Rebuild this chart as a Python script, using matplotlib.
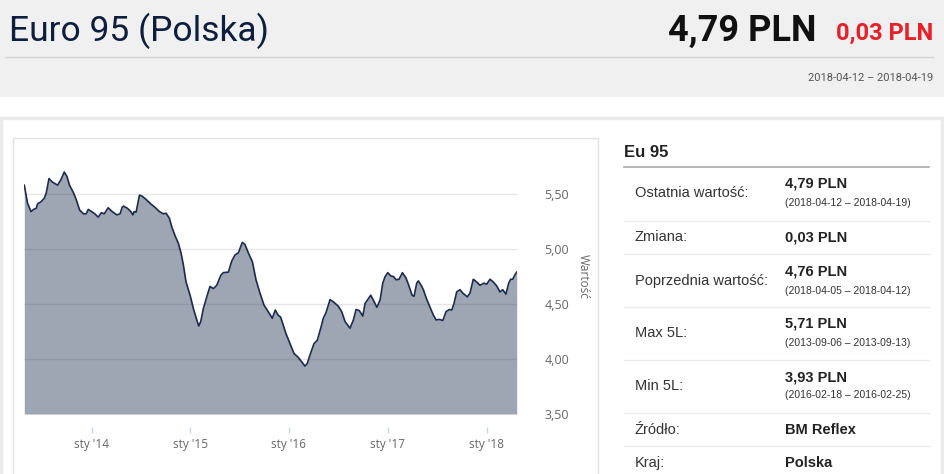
import datetime as dt
import matplotlib
matplotlib.use("Agg")
import matplotlib.pyplot as plt
from matplotlib.patches import Rectangle
from matplotlib.lines import Line2D

# weekly price readings, x as decimal year
years = [2013.319, 2013.352, 2013.387, 2013.413, 2013.440, 2013.453, 2013.488, 2013.521,
         2013.542, 2013.569, 2013.602, 2013.656, 2013.690, 2013.724, 2013.751, 2013.777,
         2013.818, 2013.845, 2013.879, 2013.919, 2013.946, 2013.967, 2014.000, 2014.034,
         2014.068, 2014.101, 2014.129, 2014.169, 2014.210, 2014.257, 2014.290, 2014.311,
         2014.324, 2014.364, 2014.399, 2014.419, 2014.432, 2014.452, 2014.486, 2014.513,
         2014.554, 2014.594, 2014.642, 2014.688, 2014.729, 2014.756, 2014.789, 2014.814,
         2014.847, 2014.881, 2014.908, 2014.931, 2014.958, 2014.999, 2015.032, 2015.067,
         2015.087, 2015.107, 2015.134, 2015.168, 2015.201, 2015.235, 2015.269, 2015.310,
         2015.336, 2015.387, 2015.421, 2015.454, 2015.488, 2015.528, 2015.556, 2015.589,
         2015.630, 2015.667, 2015.707, 2015.748, 2015.791, 2015.832, 2015.862, 2015.890,
         2015.917, 2015.937, 2015.971, 2016.011, 2016.052, 2016.095, 2016.129, 2016.163,
         2016.186, 2016.213, 2016.254, 2016.287, 2016.322, 2016.348, 2016.375, 2016.416,
         2016.449, 2016.500, 2016.534, 2016.568, 2016.618, 2016.652, 2016.679, 2016.712,
         2016.747, 2016.770, 2016.793, 2016.828, 2016.854, 2016.889, 2016.922, 2016.949,
         2016.973, 2017.000, 2017.030, 2017.057, 2017.084, 2017.114, 2017.148, 2017.185,
         2017.212, 2017.246, 2017.266, 2017.293, 2017.310, 2017.344, 2017.360, 2017.395,
         2017.428, 2017.461, 2017.489, 2017.522, 2017.557, 2017.590, 2017.623, 2017.648,
         2017.671, 2017.698, 2017.732, 2017.759, 2017.806, 2017.833, 2017.866, 2017.901,
         2017.934, 2017.975, 2018.002, 2018.035, 2018.069, 2018.103, 2018.137, 2018.164,
         2018.197, 2018.225, 2018.245, 2018.265, 2018.288, 2018.306]
prices = [5.58, 5.415, 5.34, 5.36, 5.37, 5.41, 5.43, 5.46,
          5.51, 5.64, 5.61, 5.58, 5.63, 5.70, 5.66, 5.58,
          5.51, 5.45, 5.355, 5.32, 5.32, 5.36, 5.34, 5.32,
          5.29, 5.33, 5.32, 5.375, 5.34, 5.31, 5.32, 5.38,
          5.39, 5.37, 5.34, 5.31, 5.34, 5.335, 5.49, 5.48,
          5.45, 5.415, 5.38, 5.34, 5.32, 5.325, 5.28, 5.20,
          5.12, 5.05, 4.96, 4.855, 4.70, 4.58, 4.46, 4.355,
          4.30, 4.34, 4.46, 4.565, 4.66, 4.64, 4.67, 4.76,
          4.785, 4.79, 4.89, 4.945, 4.965, 5.06, 5.04, 4.965,
          4.885, 4.72, 4.60, 4.49, 4.43, 4.37, 4.445, 4.40,
          4.38, 4.325, 4.23, 4.14, 4.05, 4.015, 3.975, 3.935,
          3.96, 4.035, 4.14, 4.17, 4.28, 4.37, 4.42, 4.54,
          4.52, 4.48, 4.43, 4.34, 4.28, 4.355, 4.45, 4.44,
          4.39, 4.505, 4.535, 4.58, 4.535, 4.47, 4.535, 4.69,
          4.75, 4.785, 4.755, 4.75, 4.72, 4.725, 4.785, 4.735,
          4.67, 4.58, 4.57, 4.69, 4.71, 4.66, 4.63, 4.54,
          4.47, 4.40, 4.355, 4.36, 4.35, 4.43, 4.45, 4.445,
          4.505, 4.61, 4.63, 4.60, 4.565, 4.60, 4.725, 4.70,
          4.67, 4.69, 4.68, 4.725, 4.70, 4.665, 4.61, 4.63,
          4.59, 4.69, 4.725, 4.725, 4.765, 4.79]

tick_years = [2014, 2015, 2016, 2017, 2018]
tick_labels = ["sty '14", "sty '15", "sty '16", "sty '17", "sty '18"]
y_ticks = [3.5, 4.0, 4.5, 5.0, 5.5]

rows = [
    ("Ostatnia wartość:", "4,79 PLN", "(2018-04-12 – 2018-04-19)"),
    ("Zmiana:", "0,03 PLN", None),
    ("Poprzednia wartość:", "4,76 PLN", "(2018-04-05 – 2018-04-12)"),
    ("Max 5L:", "5,71 PLN", "(2013-09-06 – 2013-09-13)"),
    ("Min 5L:", "3,93 PLN", "(2016-02-18 – 2016-02-25)"),
    ("Źródło:", "BM Reflex", None),
    ("Kraj:", "Polska", None),
]
row_y = [193, 237, 281, 333, 386, 430, 463]
sep_y = [221, 254, 307, 360, 413, 446]


def to_date(y):
    yr = int(y)
    start = dt.datetime(yr, 1, 1)
    days = (dt.datetime(yr + 1, 1, 1) - start).days
    return start + dt.timedelta(days=(y - yr) * days)


W, H = 945, 474
fig = plt.figure(figsize=(W / 100, H / 100), dpi=100)
fig.patch.set_facecolor("white")


def fx(x):
    return x / W


def fy(y):
    return 1 - y / H


narrow = ["Liberation Sans Narrow", "Roboto", "DejaVu Sans"]
arial = ["Liberation Sans", "DejaVu Sans"]
ui = ["Open Sans", "DejaVu Sans"]

# header band
fig.add_artist(Rectangle((0, fy(97)), 1, 97 / H, transform=fig.transFigure,
                         facecolor="#f0f0f0", edgecolor="none", zorder=0))
fig.add_artist(Line2D([fx(5), fx(933)], [fy(57), fy(57)], transform=fig.transFigure,
                      color="#d2d2d2", lw=1))
fig.text(fx(9), fy(31), "Euro 95 (Polska)", family=narrow, fontsize=25.5,
         color="#0e1e3c", ha="left", va="center")
fig.text(fx(817), fy(31), "4,79 PLN", family=narrow, fontsize=26, weight="bold",
         color="#111111", ha="right", va="center")
fig.text(fx(933), fy(33), "0,03 PLN", family=narrow, fontsize=17, weight="bold",
         color="#e8202a", ha="right", va="center")
fig.text(fx(933), fy(78), "2018-04-12 – 2018-04-19", family=narrow, fontsize=8,
         color="#555555", ha="right", va="center")

# outer panel and chart box
fig.add_artist(Rectangle((fx(1.5), fy(500)), fx(941), 382.5 / H, transform=fig.transFigure,
                         facecolor="none", edgecolor="#ebebeb", lw=2.5, zorder=0))
fig.add_artist(Rectangle((fx(13), fy(500)), fx(585), 362 / H, transform=fig.transFigure,
                         facecolor="none", edgecolor="#e4e4e4", lw=1, zorder=0))

# chart
ax = fig.add_axes([fx(24.3), fy(414), fx(516.7 - 24.3), 264 / H])
dates = [to_date(y) for y in years]
navy = "#1c2b4b"
ax.fill_between(dates, prices, 3.5, color=navy, alpha=0.42, lw=0, zorder=2)
ax.plot(dates, prices, color=navy, lw=1.2, zorder=3)
ax.set_xlim(dates[0], dates[-1])
ax.set_ylim(3.5, 5.9)
ax.set_yticks(y_ticks)
ax.set_yticklabels([f"{v:.2f}".replace(".", ",") for v in y_ticks])
ax.grid(axis="y", color="#e6e6e6", lw=1, zorder=1)
ax.set_axisbelow(True)
ax.set_xticks([dt.datetime(y, 1, 1) for y in tick_years])
ax.set_xticklabels(tick_labels)
ax.set_facecolor("none")
for s in ax.spines.values():
    s.set_visible(False)
ax.spines["bottom"].set_position(("outward", 9))
ax.tick_params(axis="x", length=4, width=1, color="#ccd6eb", pad=4,
               labelsize=8.5, labelcolor="#666666")
ax.tick_params(axis="y", length=0, pad=20, labelsize=9, labelcolor="#666666",
               left=False, right=True, labelleft=False, labelright=True)
for lab in ax.get_xticklabels() + ax.get_yticklabels():
    lab.set_family(ui)
fig.text(fx(583), fy(276), "Wartość", family=ui, fontsize=8.5, color="#666666",
         rotation=-90, ha="center", va="center")

# side table
fig.text(fx(624), fy(152), "Eu 95", family=arial, fontsize=12, weight="bold",
         color="#222222", ha="left", va="center")
fig.add_artist(Line2D([fx(624), fx(929)], [fy(167), fy(167)], transform=fig.transFigure,
                      color="#a8a8a8", lw=1.2))
for sy in sep_y:
    fig.add_artist(Line2D([fx(624), fx(929)], [fy(sy), fy(sy)], transform=fig.transFigure,
                          color="#ececec", lw=1))
for (label, value, sub), yy in zip(rows, row_y):
    fig.text(fx(635), fy(yy), label, family=arial, fontsize=10.5, color="#333333",
             ha="left", va="center")
    if sub:
        fig.text(fx(785), fy(yy - 9), value, family=arial, fontsize=10.5, weight="bold",
                 color="#222222", ha="left", va="center")
        fig.text(fx(785), fy(yy + 9.5), sub, family=arial, fontsize=7.5,
                 color="#333333", ha="left", va="center")
    else:
        fig.text(fx(785), fy(yy), value, family=arial, fontsize=10.5, weight="bold",
                 color="#222222", ha="left", va="center")

fig.savefig("out.png", dpi=100)
